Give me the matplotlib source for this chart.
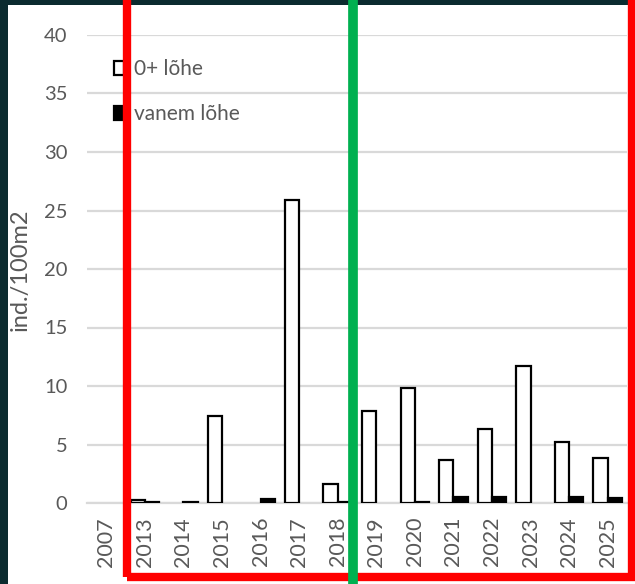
import matplotlib
matplotlib.use("Agg")
import matplotlib.pyplot as plt
import numpy as np
from matplotlib.patches import Rectangle, Patch
from matplotlib.lines import Line2D

years = ["2007", "2013", "2014", "2015", "2016", "2017", "2018",
         "2019", "2020", "2021", "2022", "2023", "2024", "2025"]
lohe_0plus = [0, 0.25, 0, 7.4, 0, 25.9, 1.65, 7.9, 9.85, 3.7, 6.35, 11.75, 5.25, 3.85]
vanem_lohe = [0, 0.05, 0.05, 0, 0.35, 0, 0.05, 0, 0.1, 0.5, 0.5, 0, 0.5, 0.4]
series_labels = ["0+ lõhe", "vanem lõhe"]
y_ticks = [0, 5, 10, 15, 20, 25, 30, 35, 40]
y_label = "ind./100m2"

plt.rcParams['font.family'] = ['Lato', 'DejaVu Sans']
W, H = 635, 584
fig = plt.figure(figsize=(W / 100, H / 100), dpi=100)
fig.patch.set_facecolor("#0b2b2f")
# white panel
fig.patches.append(Rectangle((8 / W, 0), 1 - 8 / W, 1 - 5 / H, transform=fig.transFigure,
                             facecolor="white", edgecolor="none", zorder=-5))

ax = fig.add_axes([87 / W, (H - 503) / H, 540 / W, 468 / H])
ax.set_facecolor("none")
ax.set_zorder(1)
x = np.arange(len(years))
bw = 0.37
edge0 = ["black" if v > 0 else "none" for v in lohe_0plus]
edge1 = ["black" if v > 0 else "none" for v in vanem_lohe]
ax.bar(x - bw / 2, lohe_0plus, bw, facecolor="white", edgecolor=edge0, linewidth=1.6,
       label=series_labels[0], zorder=3)
ax.bar(x + bw / 2, vanem_lohe, bw, facecolor="black", edgecolor=edge1, linewidth=1.6,
       label=series_labels[1], zorder=3)

ax.set_xlim(-0.5, len(years) - 0.5)
ax.set_ylim(0, 40)
ax.set_yticks(y_ticks)
ax.set_xticks(x)
ax.set_xticklabels(years, rotation=90)
ax.grid(axis="y", color="#d9d9d9", linewidth=1.6, zorder=0)
ax.set_axisbelow(True)
for s in ["top", "right", "left"]:
    ax.spines[s].set_visible(False)
ax.spines["bottom"].set_color("#d9d9d9")
ax.spines["bottom"].set_linewidth(1.6)
ax.tick_params(axis="both", length=0, labelcolor="#595959")
ax.tick_params(axis="y", pad=14, labelsize=14.5)
ax.tick_params(axis="x", pad=10, labelsize=15.5)

fig.text(20 / W, 1 - 270 / H, y_label, rotation=90, ha="center", va="center",
         fontsize=17, color="#595959")

handles = [Patch(facecolor="white", edgecolor="black", linewidth=1.6),
           Patch(facecolor="black", edgecolor="black", linewidth=1.6)]
leg = ax.legend(handles, series_labels, loc="upper left",
                bbox_to_anchor=(114 / W, 1 - 59 / H), bbox_transform=fig.transFigure,
                frameon=False, fontsize=15, labelcolor="#595959",
                handlelength=0.5, handleheight=0.65, handletextpad=0.45,
                labelspacing=1.2, borderpad=0, borderaxespad=0)

# annotation overlays: red frame and green divider
fig.add_artist(Rectangle((126.5 / W, (H - 577) / H), (631.5 - 126.5) / W, 577 / H + 0.05,
                         transform=fig.transFigure, fill=False, edgecolor="#ff0000",
                         linewidth=6, zorder=10, clip_on=False))
fig.add_artist(Line2D([353 / W, 353 / W], [0, 1], transform=fig.transFigure,
                      color="#00b050", linewidth=7, zorder=10))

fig.savefig("out.png", dpi=100)
